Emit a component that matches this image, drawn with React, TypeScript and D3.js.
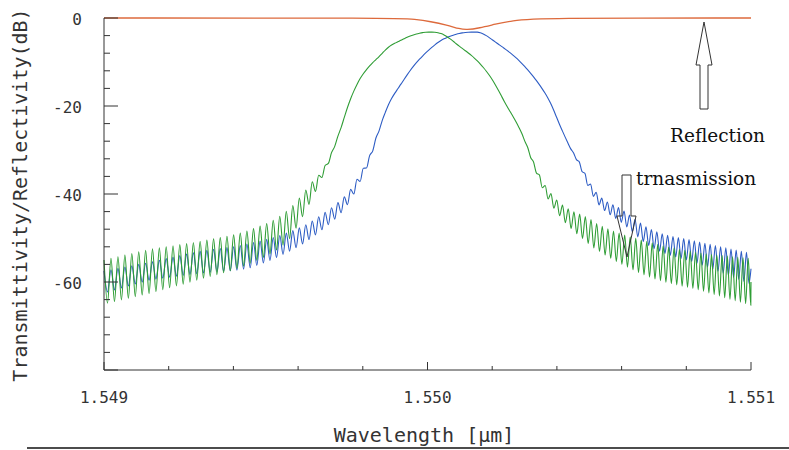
import React from 'react'
import * as d3 from 'd3'

// values: [wavelength (um), dB]
const greenCenter = [
  [1.549, -60], [1.54914, -57.6], [1.5493, -55], [1.54945, -52], [1.54957, -47],
  [1.54961, -43], [1.54964, -39.5], [1.54967, -36], [1.5497, -31.5], [1.54973, -25.5],
  [1.54976, -18.8], [1.54979, -14], [1.54982, -11], [1.54985, -8.8], [1.54988, -6.6],
  [1.54992, -5], [1.54995, -4], [1.54998, -3.4], [1.55, -3.2], [1.55004, -3.5],
  [1.5501, -6.5], [1.55016, -10.2], [1.5502, -14], [1.55024, -19.3], [1.55029, -26],
  [1.55033, -33.5], [1.55036, -38.5], [1.55041, -43.6], [1.5505, -48.5], [1.55053, -50],
  [1.55069, -55], [1.55084, -57.6], [1.551, -60],
]
const greenRipple = [
  [1.549, 5], [1.54914, 5], [1.5493, 4.3], [1.54945, 3.8], [1.54957, 3.5], [1.54964, 2],
  [1.54967, 0.8], [1.54971, 0.2], [1.54974, 0], [1.55029, 0], [1.55033, 0.4], [1.55036, 0.9],
  [1.55041, 1.5], [1.5505, 3], [1.55053, 3], [1.55069, 4], [1.55084, 4.2], [1.551, 5.3],
]
const greenPeriod = [[1.549, 0.0000216], [1.55, 0.000019], [1.551, 0.000016]]

const blueCenter = [
  [1.549, -60], [1.54914, -57.6], [1.5493, -55.5], [1.54945, -54], [1.54961, -49.5],
  [1.54967, -46.6], [1.54973, -43], [1.54976, -40.4], [1.54979, -36.5], [1.54982, -32],
  [1.54985, -25.5], [1.54988, -19.6], [1.54992, -14.8], [1.54995, -11.6], [1.54998, -9],
  [1.55004, -5.2], [1.5501, -3.5], [1.55015, -3.2], [1.55022, -6], [1.55029, -10.2],
  [1.55035, -15.6], [1.55038, -19.3], [1.55041, -24.5], [1.55044, -29.3], [1.55047, -33.2],
  [1.5505, -38], [1.55053, -41.4], [1.5506, -45], [1.55069, -50], [1.55084, -53.4],
  [1.551, -57],
]
const blueRipple = [
  [1.549, 2.5], [1.54914, 2], [1.5493, 2.5], [1.54945, 2.8], [1.54961, 2], [1.54973, 1.5],
  [1.54979, 0.9], [1.54984, 0.3], [1.54987, 0], [1.55044, 0], [1.55047, 0.4], [1.55052, 1],
  [1.5506, 1.5], [1.55069, 2], [1.55084, 2.5], [1.551, 3.5],
]
const bluePeriod = [[1.549, 0.0000216], [1.55, 0.000019], [1.551, 0.0000158]]

const reflection = [
  [1.549, 0], [1.54991, 0], [1.54996, -0.3], [1.55001, -0.8], [1.55006, -1.6],
  [1.5501, -2.5], [1.55012, -2.7], [1.55016, -2.3], [1.55021, -1.4], [1.55026, -0.6],
  [1.55034, 0], [1.551, 0],
]

const xTickLabels = ['1.549', '1.550', '1.551']
const yTickLabels = [0, -20, -40, -60]

const mono = '"DejaVu Sans Mono", monospace'
const serif = '"DejaVu Serif", serif'

function lookup(pts: number[][]) {
  return d3.scaleLinear().domain(pts.map(d => d[0])).range(pts.map(d => d[1])).clamp(true)
}

// smooth (monotone cubic) lookup through the read points
function smoothLookup(pts: number[][]) {
  const n = pts.length
  const xs = pts.map(d => d[0]), ys = pts.map(d => d[1])
  const dk: number[] = []
  for (let i = 0; i < n - 1; i++) dk.push((ys[i + 1] - ys[i]) / (xs[i + 1] - xs[i]))
  const m: number[] = [dk[0]]
  for (let i = 1; i < n - 1; i++) {
    m.push(dk[i - 1] * dk[i] <= 0 ? 0 : (dk[i - 1] + dk[i]) / 2)
  }
  m.push(dk[n - 2])
  for (let i = 0; i < n - 1; i++) {
    if (dk[i] === 0) { m[i] = 0; m[i + 1] = 0; continue }
    const a = m[i] / dk[i], b = m[i + 1] / dk[i], s = a * a + b * b
    if (s > 9) { const t = 3 / Math.sqrt(s); m[i] = t * a * dk[i]; m[i + 1] = t * b * dk[i] }
  }
  return (v: number) => {
    let i = d3.bisectRight(xs, v) - 1
    i = Math.max(0, Math.min(n - 2, i))
    const h = xs[i + 1] - xs[i], t = (v - xs[i]) / h
    const t2 = t * t, t3 = t2 * t
    return (2 * t3 - 3 * t2 + 1) * ys[i] + (t3 - 2 * t2 + t) * h * m[i] +
      (-2 * t3 + 3 * t2) * ys[i + 1] + (t3 - t2) * h * m[i + 1]
  }
}

// walk along the trace, alternating to the top/bottom of the ripple band
function rippleTrace(center: number[][], ripple: number[][], period: number[][]) {
  const c = smoothLookup(center), a = lookup(ripple), p = lookup(period)
  const out: number[][] = []
  let wl = 1.549, k = 0
  while (wl <= 1.551) {
    out.push([wl, c(wl) + (k % 2 === 0 ? a(wl) : -a(wl))])
    wl += p(wl) / 2
    k++
  }
  out.push([1.551, c(1.551)])
  return out
}

export default function App() {
  const x = d3.scaleLinear().domain([1.549, 1.551]).range([104, 751])
  const y = d3.scaleLinear().domain([-80, 0]).range([370, 18])

  const rippleLine = d3.line<number[]>().x(d => x(d[0])).y(d => y(d[1])).curve(d3.curveMonotoneX)
  const plainLine = d3.line<number[]>().x(d => x(d[0])).y(d => y(d[1])).curve(d3.curveBasis)

  const green = rippleTrace(greenCenter, greenRipple, greenPeriod)
  const blue = rippleTrace(blueCenter, blueRipple, bluePeriod)

  const yMinor = d3.range(-80, 0.01, 4)
  const xMinor = d3.range(0, 11).map(i => 1.549 + i * 0.0002)

  return (
    <svg width={789} height={450} style={{ position: 'absolute', left: 0, top: 0, background: '#fff' }}>
      <path d={plainLine(reflection) || ''} fill="none" stroke="#dd6a3c" strokeWidth={1.3} />
      <path d={rippleLine(blue) || ''} fill="none" stroke="#2d5cc4" strokeWidth={1.1} />
      <path d={rippleLine(green) || ''} fill="none" stroke="#2f9d35" strokeWidth={1.1} />

      {/* axes */}
      <g stroke="#333" strokeWidth={1}>
        <line x1={104} x2={104} y1={y(0)} y2={y(-80)} />
        <line x1={104} x2={751} y1={y(-80)} y2={y(-80)} />
        {yMinor.map(v => (
          <line key={v} x1={104} x2={104 + (v % 20 === 0 ? 14 : 6)} y1={y(v)} y2={y(v)} />
        ))}
        {xMinor.map((v, i) => (
          <line key={i} x1={x(v)} x2={x(v)} y1={y(-80)} y2={y(-80) - (i % 5 === 0 ? 8 : 4)} />
        ))}
      </g>
      <g fill="#333" fontFamily={mono} fontSize={16}>
        {yTickLabels.map(v => (
          <text key={v} x={82} y={y(v) + 7} textAnchor="end">{v}</text>
        ))}
        {xTickLabels.map(t => (
          <text key={t} x={x(+t)} y={403} textAnchor="middle">{t}</text>
        ))}
      </g>
      <text x={424} y={442} textAnchor="middle" fontFamily={mono} fontSize={20} fill="#333">Wavelength [μm]</text>
      <text transform="translate(27,195) rotate(-90)" textAnchor="middle" fontFamily={mono} fontSize={20} fill="#333">
        Transmittivity/Reflectivity(dB)
      </text>

      {/* annotations */}
      <path d="M704,22 L712,65 L708,65 L708,109 L700,109 L700,65 L696,65 Z" fill="#fff" stroke="#333" strokeWidth={1} />
      <text x={670} y={142} fontFamily={serif} fontSize={18.5} fill="#111">Reflection</text>
      <path d="M622,175 L631,175 L631,216 L636,216 L627,257 L617,216 L622,216 Z" fill="none" stroke="#333" strokeWidth={1} />
      <text x={636} y={185} fontFamily={serif} fontSize={18.5} fill="#111">trnasmission</text>

      <line x1={27} x2={789} y1={448} y2={448} stroke="#111" strokeWidth={1.5} />
    </svg>
  )
}
